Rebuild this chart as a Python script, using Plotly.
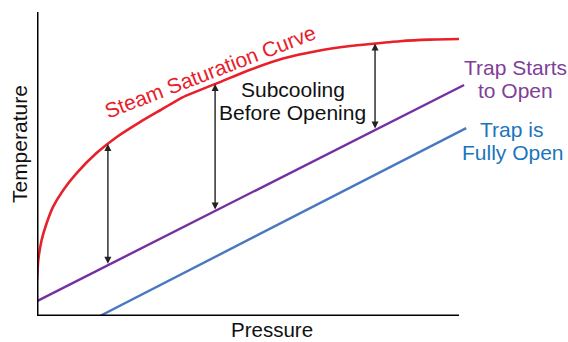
import numpy as np
import plotly.graph_objects as go

# Steam saturation curve (pressure, temperature)
sat_p = [0, 0.3, 1.1, 2.3, 3.8, 6.2, 9.4, 14.1, 18.9, 24.4, 29.1, 34.6, 42.7,
         50.5, 58.3, 66.4, 74.2, 79.0, 86.0, 93.0, 100]
sat_t = [11.8, 18.4, 25.0, 30.6, 35.9, 41.4, 47.0, 53.6, 58.9, 63.8, 67.6, 72.0, 76.6,
         81.0, 84.7, 87.2, 88.8, 89.5, 90.4, 90.9, 91.1]

# Trap starts to open line
start_p = [0, 101.2]
start_t = [4.9, 76.0]

# Trap fully open line
full_p = [14.9, 101.7]
full_t = [0, 61.8]

# Subcooling arrows (pressure positions)
arrow_p = [16.8, 42.2, 80.1]
arrow_top = list(np.interp(arrow_p, sat_p, sat_t))
arrow_bot = list(np.interp(arrow_p, start_p, start_t))

RED = "#E8202A"
PURPLE = "#7430A0"
PURPLE_TXT = "#7F3F98"
BLUE = "#4A78C0"
BLUE_TXT = "#1B75BC"
FONT = "Liberation Sans, Arial, sans-serif"

fig = go.Figure()
fig.add_trace(go.Scatter(x=sat_p, y=sat_t, mode="lines",
                         line=dict(color=RED, width=2.6, shape="spline", smoothing=0.5),
                         hoverinfo="skip"))
fig.add_trace(go.Scatter(x=start_p, y=start_t, mode="lines",
                         line=dict(color=PURPLE, width=2.4), hoverinfo="skip"))
fig.add_trace(go.Scatter(x=full_p, y=full_t, mode="lines",
                         line=dict(color=BLUE, width=2.4), hoverinfo="skip"))

annotations = []
for xp, yt, yb in zip(arrow_p, arrow_top, arrow_bot):
    annotations.append(dict(x=xp, y=yt, ax=xp, ay=yb, xref="x", yref="y",
                            axref="x", ayref="y", text="", showarrow=True,
                            arrowhead=2, arrowside="end+start", arrowsize=1,
                            arrowwidth=1.4, arrowcolor="#222222",
                            standoff=0, startstandoff=0))

def lab(text, x, y, color, angle=0, size=21):
    annotations.append(dict(text=text, x=x, y=y, xref="paper", yref="paper",
                            showarrow=False, textangle=angle, borderpad=0,
                            font=dict(family=FONT, size=size, color=color),
                            xanchor="center", yanchor="middle", align="center"))

lab("Steam Saturation Curve", 0.40, 0.805, RED, angle=-21)
lab("Subcooling", 0.591, 0.745, "#111111")
lab("Before Opening", 0.591, 0.671, "#111111")
lab("Trap Starts", 1.106, 0.816, PURPLE_TXT)
lab("to Open", 1.106, 0.743, PURPLE_TXT)
lab("Trap is", 1.095, 0.612, BLUE_TXT)
lab("Fully Open", 1.099, 0.539, BLUE_TXT)
lab("Temperature", -0.039, 0.566, "#111111", angle=-90)
lab("Pressure", 0.543, -0.046, "#111111", size=20.5)

shapes = [
    dict(type="line", xref="x", yref="y", x0=0, x1=100, y0=0, y1=0,
         line=dict(color="black", width=3)),
    dict(type="line", xref="x", yref="y", x0=0, x1=0, y0=0, y1=100,
         line=dict(color="black", width=3)),
]

fig.update_layout(
    width=568, height=342,
    margin=dict(l=37, r=98, t=12, b=26),
    paper_bgcolor="white", plot_bgcolor="white",
    showlegend=False,
    annotations=annotations, shapes=shapes,
    xaxis=dict(range=[0, 102.6], showgrid=False, zeroline=False,
               showticklabels=False, ticks="", showline=False, fixedrange=True),
    yaxis=dict(range=[0, 100], showgrid=False, zeroline=False,
               showticklabels=False, ticks="", showline=False, fixedrange=True),
)
fig.write_html("out.html", config={"displayModeBar": False},
               post_script="document.body.style.margin='0';document.body.style.overflow='hidden';")
